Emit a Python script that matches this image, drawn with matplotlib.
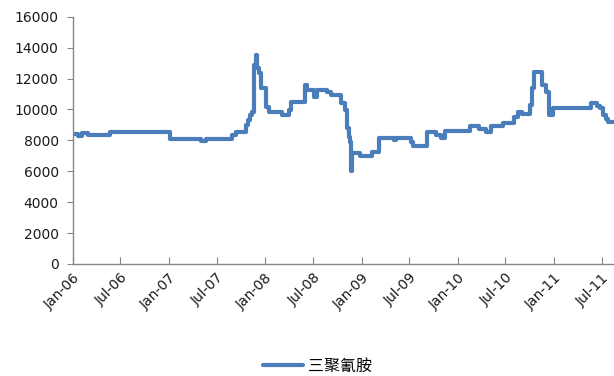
import matplotlib
matplotlib.use("Agg")
import matplotlib.pyplot as plt
import pandas as pd

dates = ["2006-01-01", "2006-01-21", "2006-02-05", "2006-02-28", "2006-05-22",
         "2007-01-07", "2007-05-01", "2007-05-20", "2007-08-28", "2007-09-12",
         "2007-10-19", "2007-10-27", "2007-11-04", "2007-11-12", "2007-11-20",
         "2007-11-27", "2007-12-03", "2007-12-08", "2007-12-16", "2008-01-06",
         "2008-01-17", "2008-03-07", "2008-03-30", "2008-04-10", "2008-05-30",
         "2008-06-08", "2008-07-06", "2008-07-17", "2008-08-24", "2008-09-08",
         "2008-10-16", "2008-10-31", "2008-11-08", "2008-11-15", "2008-11-19",
         "2008-11-22", "2008-11-25", "2008-12-26", "2009-02-09", "2009-03-07",
         "2009-05-06", "2009-05-13", "2009-07-09", "2009-07-16", "2009-09-07",
         "2009-10-11", "2009-10-30", "2009-11-14", "2010-02-17", "2010-03-23",
         "2010-04-19", "2010-05-08", "2010-06-20", "2010-08-04", "2010-08-16",
         "2010-09-03", "2010-10-04", "2010-10-11", "2010-10-19", "2010-11-15",
         "2010-12-02", "2010-12-13", "2010-12-27", "2011-05-21", "2011-06-13",
         "2011-06-25", "2011-07-06", "2011-07-17", "2011-07-25", "2011-08-20"]
prices = [8400, 8280, 8500, 8350, 8560,
          8080, 7980, 8080, 8350, 8560,
          8990, 9320, 9640, 9850, 12880,
          13520, 12680, 12360, 11390, 10180,
          9850, 9640, 9960, 10500, 11580,
          11260, 10830, 11260, 11150, 10930,
          10400, 9960, 8780, 8240, 7910,
          6000, 7160, 6990, 7270, 8130,
          8020, 8130, 7910, 7640, 8540,
          8350, 8150, 8610, 8930, 8730,
          8540, 8930, 9100, 9530, 9810,
          9680, 10290, 11370, 12440, 11580,
          11150, 9640, 10100, 10400, 10250,
          10070, 9640, 9400, 9210, 9210]
series_name = "三聚氰胺"
y_ticks = [0, 2000, 4000, 6000, 8000, 10000, 12000, 14000, 16000]
x_tick_dates = ["2006-01-01", "2006-07-01", "2007-01-01", "2007-07-01", "2008-01-01",
                "2008-07-01", "2009-01-01", "2009-07-01", "2010-01-01", "2010-07-01",
                "2011-01-01", "2011-07-01"]
x_tick_labels = ["Jan-06", "Jul-06", "Jan-07", "Jul-07", "Jan-08", "Jul-08",
                 "Jan-09", "Jul-09", "Jan-10", "Jul-10", "Jan-11", "Jul-11"]

x = pd.to_datetime(dates)

fig = plt.figure(figsize=(6.14, 3.76), dpi=100)
ax = fig.add_axes([0.1184, 0.2979, 1.0 - 0.1184, 0.9556 - 0.2979])
line_color = "#4a7ebb"
ax.plot(x, prices, drawstyle="steps-post", color=line_color, lw=3.0,
        solid_joinstyle="round", solid_capstyle="round", label=series_name)

ax.set_xlim(pd.Timestamp("2006-01-01"), pd.Timestamp("2011-08-17"))
ax.set_ylim(0, 16000)
ax.set_yticks(y_ticks)
ax.set_yticklabels([str(v) for v in y_ticks])
ax.set_xticks(pd.to_datetime(x_tick_dates))
ax.set_xticklabels(x_tick_labels, rotation=45, ha="right", va="top",
                   rotation_mode="anchor")

for s in ["top", "right"]:
    ax.spines[s].set_visible(False)
for s in ["left", "bottom"]:
    ax.spines[s].set_color("#868686")
    ax.spines[s].set_linewidth(1.0)
ax.tick_params(axis="y", direction="out", length=4, color="#868686",
               labelsize=10, labelcolor="#1a1a1a", pad=6)
ax.tick_params(axis="x", direction="in", length=5, color="#868686",
               labelsize=10, labelcolor="#1a1a1a", pad=5)
for lab in ax.get_xticklabels() + ax.get_yticklabels():
    lab.set_family("DejaVu Sans")

leg = fig.legend(loc="lower center", bbox_to_anchor=(0.517, -0.035), frameon=False,
                 handlelength=2.5, handletextpad=0.3,
                 prop={"family": ["Noto Sans CJK SC", "DejaVu Sans"], "size": 11.5})

fig.savefig("out.png", dpi=100)
